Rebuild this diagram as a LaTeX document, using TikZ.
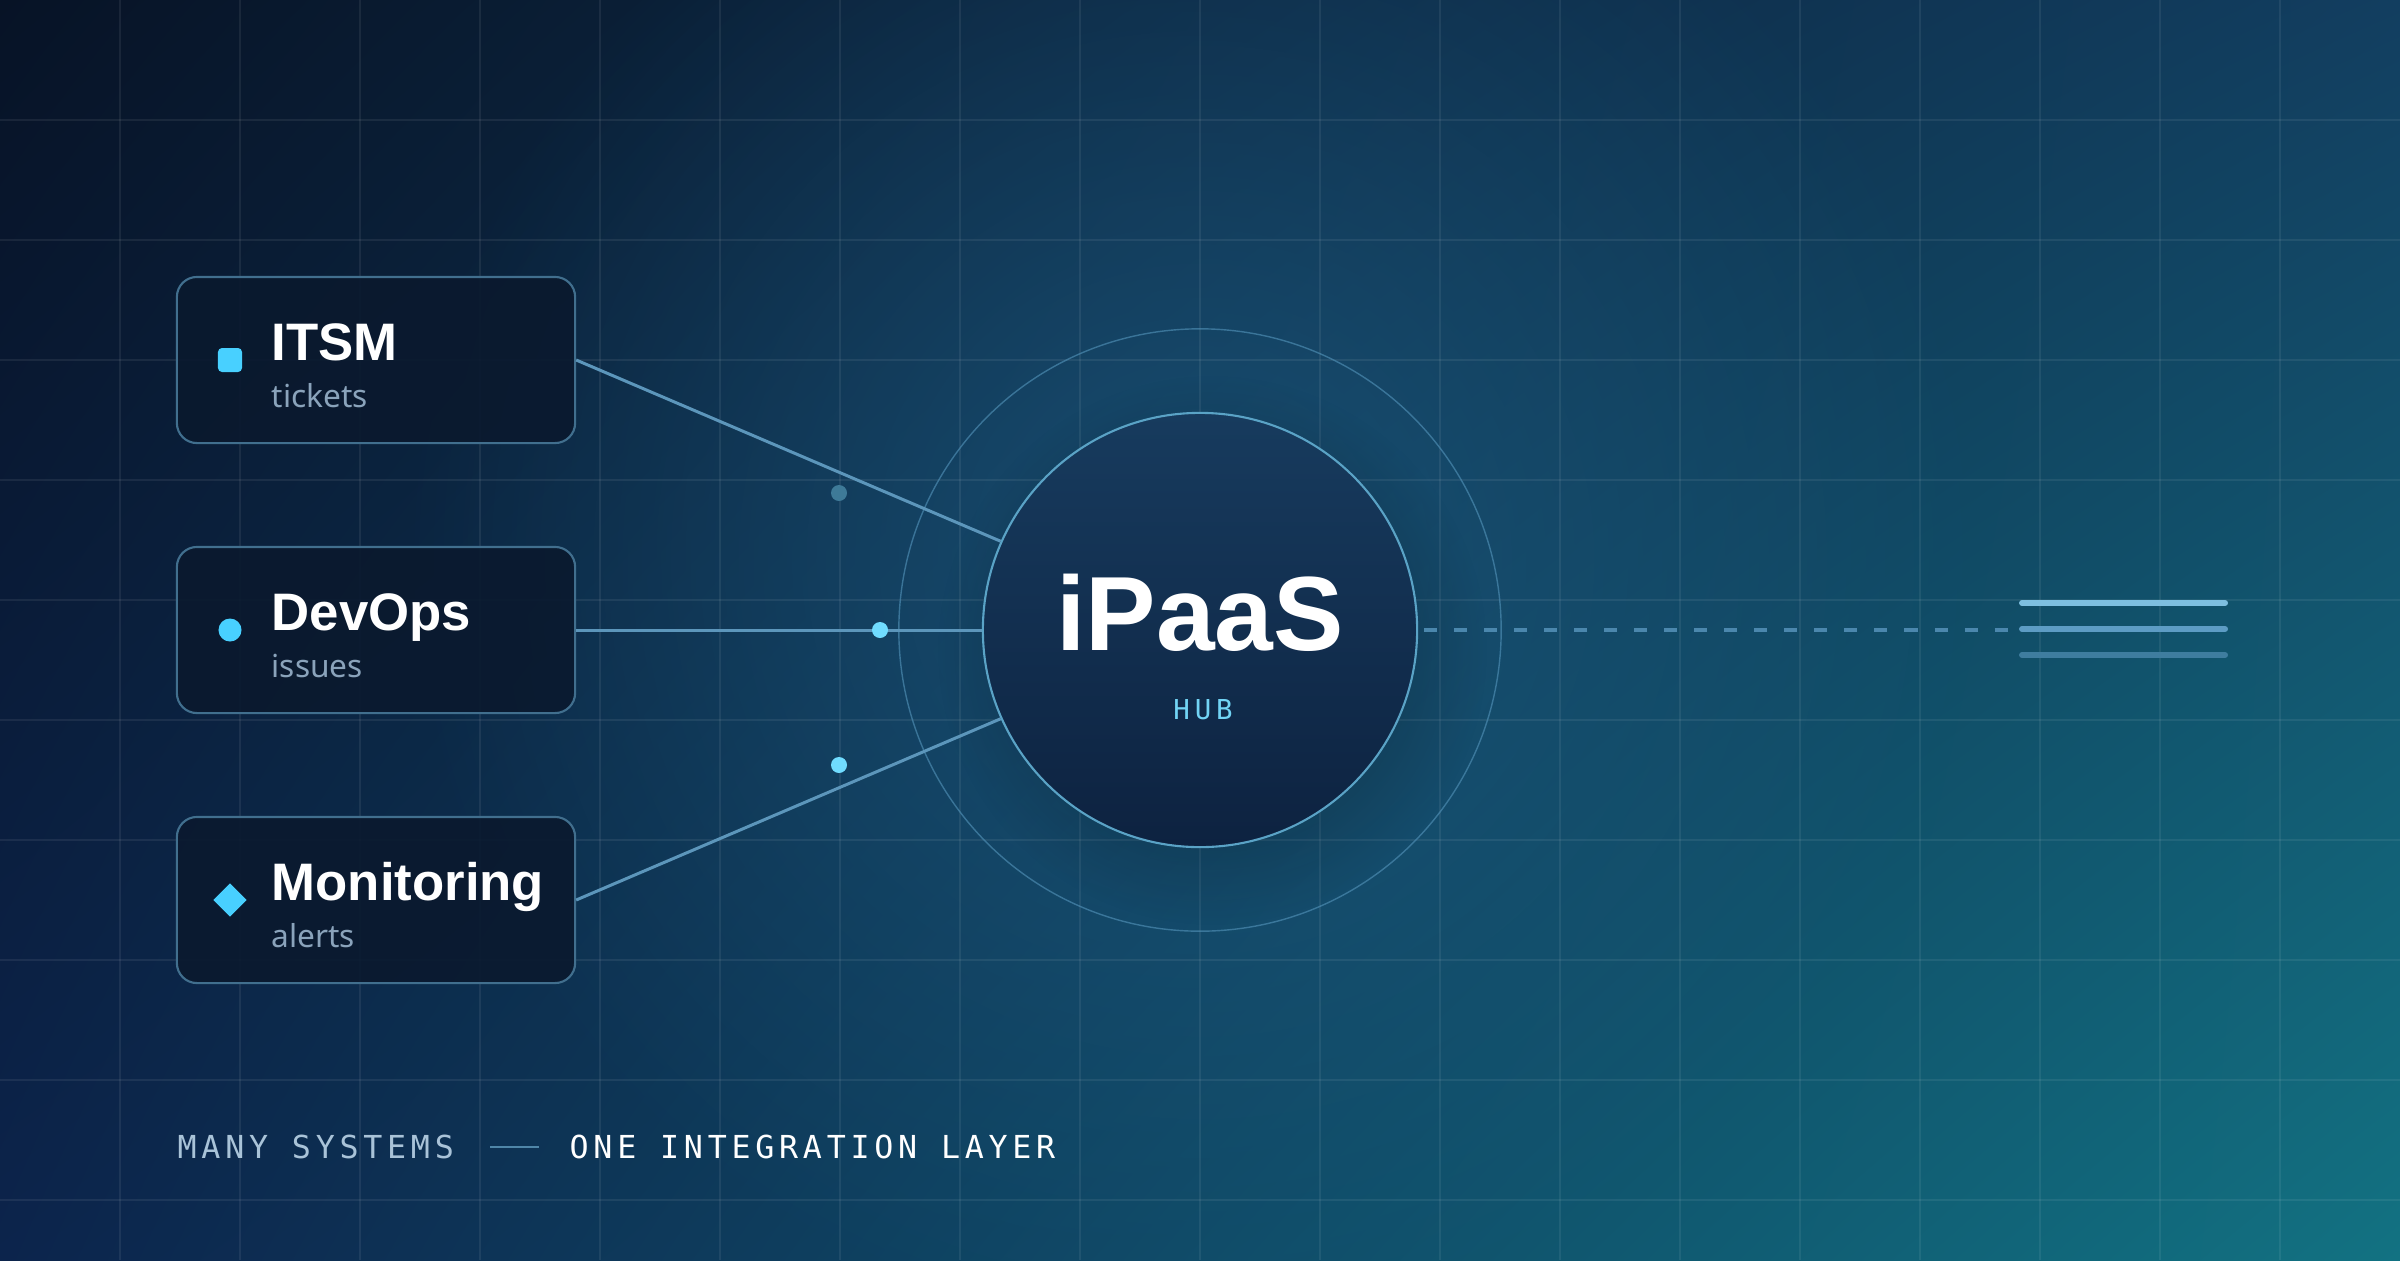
\documentclass[tikz,border=0pt]{standalone}
\usepackage{fontspec}
\setmainfont{Noto Sans}
\newfontfamily\boldsans{Liberation Sans}
\newfontfamily\monohub[LetterSpace=18]{DejaVu Sans Mono}
\newfontfamily\monofoot[LetterSpace=15]{DejaVu Sans Mono}
\usetikzlibrary{shapes.geometric,fadings,shadings}
\definecolor{bgUL}{HTML}{071326}
\definecolor{bgUR}{HTML}{123E60}
\definecolor{bgLL}{HTML}{0C244C}
\definecolor{bgLR}{HTML}{127282}
\definecolor{glowc}{HTML}{1E5A82}
\definecolor{boxfill}{HTML}{0A192E}
\definecolor{boxline}{HTML}{416F8E}
\definecolor{cyanicon}{HTML}{48D0FF}
\definecolor{subc}{HTML}{8AA3BB}
\definecolor{connc}{HTML}{5C96BB}
\definecolor{hubtop}{HTML}{173B5E}
\definecolor{hubbot}{HTML}{0D2240}
\definecolor{hubline}{HTML}{5AA3C6}
\definecolor{ringc}{HTML}{4F8FB5}
\definecolor{hubtxt}{HTML}{72D4F5}
\definecolor{dotdim}{HTML}{3E7A98}
\definecolor{dotbright}{HTML}{70DCFF}
\definecolor{dashc}{HTML}{4B87AD}
\definecolor{barA}{HTML}{7EBFE0}
\definecolor{barB}{HTML}{5D9CC4}
\definecolor{barC}{HTML}{3F7D9F}
\definecolor{footA}{HTML}{A9C3D8}
\definecolor{footdash}{HTML}{4F86A8}
\tikzfading[name=glowfade, inner color=transparent!35, outer color=transparent!100]
\tikzfading[name=shadowfade, inner color=transparent!0, outer color=transparent!100]
\tikzset{
  gridline/.style={white, opacity=0.07, line width=0.45pt},
  sysbox/.style={draw=boxline, line width=0.6pt, fill=boxfill, fill opacity=0.9, rounded corners=0.2cm, minimum width=3.98cm, minimum height=1.66cm, inner sep=0pt},
  titletext/.style={anchor=base west, text=white, inner sep=0pt, font=\boldsans\bfseries\fontsize{15}{18}\selectfont},
  subtext/.style={anchor=base west, text=subc, inner sep=0pt, font=\fontsize{9}{11}\selectfont},
  iconsq/.style={rectangle, fill=cyanicon, minimum size=0.24cm, inner sep=0pt, rounded corners=0.04cm},
  icondot/.style={circle, fill=cyanicon, minimum size=0.23cm, inner sep=0pt},
  icondia/.style={diamond, fill=cyanicon, minimum size=0.34cm, inner sep=0pt, aspect=1},
  conn/.style={connc, line width=0.85pt},
  dotnode/.style={circle, minimum size=0.16cm, inner sep=0pt},
  bar/.style={line width=1.7pt, line cap=round},
  foottext/.style={anchor=base west, inner sep=0pt, font=\monofoot\fontsize{9}{11}\selectfont}
}
\begin{document}
\begin{tikzpicture}[x=0.01cm,y=-0.01cm]
\useasboundingbox (0,0) rectangle (2400,1260);
% background
\shade[upper left=bgUL, upper right=bgUR, lower left=bgLL, lower right=bgLR] (0,0) rectangle (2400,1260);
\fill[glowc, path fading=glowfade] (1200,560) circle (800);
% grid
\foreach \i in {1,...,19} \draw[gridline] (\i*120,0) -- (\i*120,1260);
\foreach \j in {1,...,10} \draw[gridline] (0,\j*120) -- (2400,\j*120);
% boxes
\node[sysbox] (itsm) at (376,360) {};
\node[sysbox] (devops) at (376,630) {};
\node[sysbox] (mon) at (376,900) {};
\node[iconsq] (itsmicon) at (230,360) {};
\node[icondot] (devicon) at (230,630) {};
\node[icondia] (monicon) at (230,900) {};
\node[titletext] (itsmt) at (271,360) {ITSM};
\node[subtext] (itsms) at (271,407) {tickets};
\node[titletext] (devt) at (271,630) {DevOps};
\node[subtext] (devs) at (271,677) {issues};
\node[titletext] (mont) at (271,900) {Monitoring};
\node[subtext] (mons) at (271,947) {alerts};
% hub shadow and ring
\fill[black, opacity=0.45, path fading=shadowfade] (1212,650) circle (275);
\node[circle, draw=ringc, draw opacity=0.65, line width=0.4pt, minimum size=6.02cm, inner sep=0pt] (ring) at (1200,630) {};
% hub
\node[circle, draw=hubline, line width=0.6pt, top color=hubtop, bottom color=hubbot, minimum size=4.34cm, inner sep=0pt] (hub) at (1200,630) {};
% connectors
\draw[conn] (itsm.east) -- (hub.156);
\draw[conn] (devops.east) -- (hub.west);
\draw[conn] (mon.east) -- (hub.204);
\node[dotnode, fill=dotdim] (d1) at (839,493) {};
\node[dotnode, fill=dotbright] (d2) at (880,630) {};
\node[dotnode, fill=dotbright] (d3) at (839,765) {};
% hub text
\node[anchor=base, text=white, inner sep=0pt, font=\boldsans\bfseries\fontsize{30}{34}\selectfont] (ipaas) at (1200,650) {iPaaS};
\node[anchor=base, text=hubtxt, inner sep=0pt, font=\monohub\fontsize{7.8}{9}\selectfont] (hubt) at (1203,719) {HUB};
% output side
\coordinate (dashend) at (2016,630);
\draw[dashc, line width=1.15pt, dash pattern=on 0.13cm off 0.17cm] ([xshift=0.06cm]hub.east) -- (dashend);
\coordinate (b1a) at (2022,603); \coordinate (b1b) at (2225,603);
\coordinate (b2a) at (2022,629); \coordinate (b2b) at (2225,629);
\coordinate (b3a) at (2022,655); \coordinate (b3b) at (2225,655);
\draw[bar, barA] (b1a) -- (b1b);
\draw[bar, barB] (b2a) -- (b2b);
\draw[bar, barC] (b3a) -- (b3b);
% footer
\node[foottext, text=footA] (many) at (177,1158) {MANY SYSTEMS};
\coordinate (fda) at (490,1147); \coordinate (fdb) at (539,1147);
\draw[footdash, line width=0.5pt] (fda) -- (fdb);
\node[foottext, text=white] (one) at (569,1158) {ONE INTEGRATION LAYER};
\end{tikzpicture}
\end{document}
